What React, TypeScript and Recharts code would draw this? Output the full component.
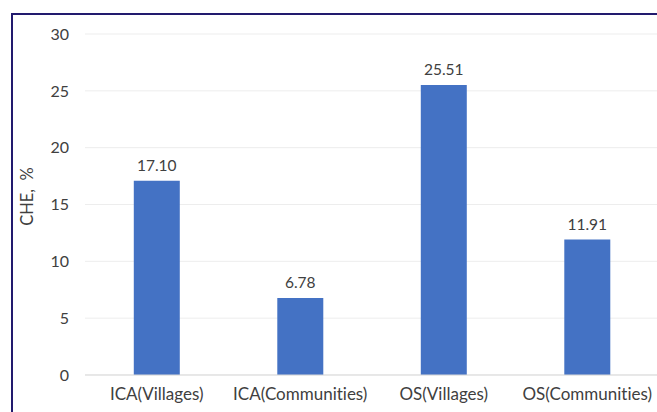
import { BarChart, Bar, XAxis, YAxis, CartesianGrid, LabelList } from "recharts";

const categories = ["ICA(Villages)", "ICA(Communities)", "OS(Villages)", "OS(Communities)"];
const cheValues = [17.1, 6.78, 25.51, 11.91];
const yTicks = [0, 5, 10, 15, 20, 25, 30];

const data = categories.map((name, i) => ({ name, che: cheValues[i] }));

const font = "Lato, 'Open Sans', sans-serif";

function YLabel(props: any) {
  const vb = props.viewBox || {};
  const x = vb.x + 27;
  const y = vb.y + vb.height / 2 - 8;
  return (
    <text
      x={x}
      y={y}
      transform={`rotate(-90 ${x} ${y})`}
      textAnchor="middle"
      dominantBaseline="central"
      fill="#404040"
      fontSize={16.5}
      fontFamily={font}
    >
      {"CHE, \u00A0%"}
    </text>
  );
}

export default function App() {
  return (
    <div
      style={{
        position: "absolute",
        left: 0,
        top: 0,
        width: 657,
        height: 412,
        overflow: "hidden",
        background: "#fff",
        fontFamily: font,
        fontVariantLigatures: "none",
      }}
    >
      <div
        style={{
          position: "absolute",
          left: 11,
          top: 13,
          right: -5,
          bottom: -5,
          borderTop: "2px solid #221a6e",
          borderLeft: "2px solid #221a6e",
        }}
      />
      <div style={{ position: "absolute", left: 0, top: 0 }}>
        <BarChart
          width={659}
          height={412}
          data={data}
          margin={{ top: 34, right: 0, bottom: 0, left: 0 }}
          barCategoryGap="34%"
        >
          <CartesianGrid vertical={false} stroke="#ededed" />
          <XAxis
            dataKey="name"
            height={37}
            tickLine={false}
            tickSize={0}
            tickMargin={13}
            axisLine={{ stroke: "#d9d9d9" }}
            tick={{ fill: "#404040", fontSize: 17, fontFamily: font }}
            interval={0}
          />
          <YAxis
            width={85}
            domain={[0, 30]}
            ticks={yTicks}
            axisLine={false}
            tickLine={false}
            tickSize={0}
            tickMargin={16}
            tick={{ fill: "#404040", fontSize: 16, fontFamily: font }}
            label={<YLabel />}
          />
          <Bar dataKey="che" fill="#4472c4" isAnimationActive={false}>
            <LabelList
              dataKey="che"
              position="top"
              offset={10}
              formatter={(v: any) => Number(v).toFixed(2)}
              fill="#404040"
              fontSize={15.5}
              fontFamily={font}
            />
          </Bar>
        </BarChart>
      </div>
    </div>
  );
}
